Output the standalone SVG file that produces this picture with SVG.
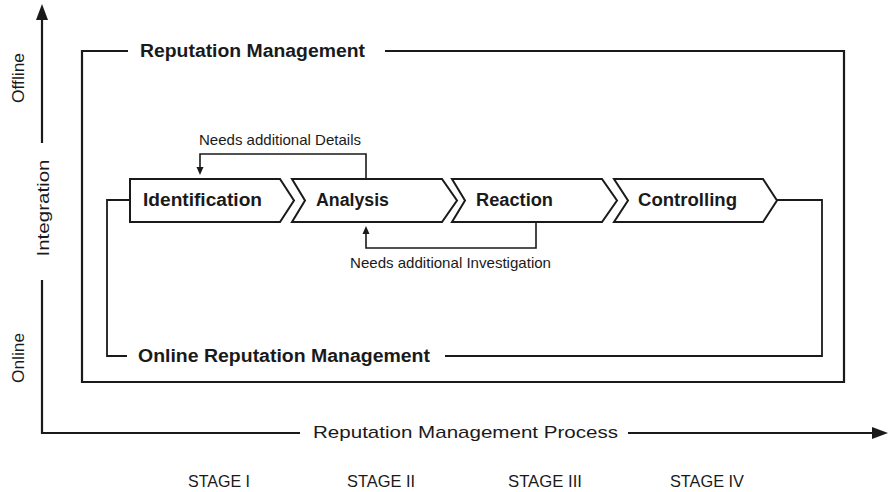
<svg xmlns="http://www.w3.org/2000/svg" width="889" height="492" viewBox="0 0 889 492">
<style>
text{font-family:"Liberation Sans",Arial,sans-serif;fill:#1a1a1a}
.b{font-weight:bold;font-size:18px}
.s{font-size:14.5px}
.ax{font-size:17px}
.st{font-size:16.5px}
.ln{fill:none;stroke:#1a1a1a;stroke-width:2.2}
.mid{fill:none;stroke:#1a1a1a;stroke-width:1.8}
.thin{fill:none;stroke:#1a1a1a;stroke-width:1.6}
.chev{fill:#fff;stroke:#1a1a1a;stroke-width:2;stroke-linejoin:miter}
.ah{fill:#1a1a1a}
</style>
<rect width="889" height="492" fill="#fff"/>
<g id="axes">
<path class="ln" d="M42,143 V18"/>
<polygon class="ah" points="42,4 36,20 48,20"/>
<path class="ln" d="M42,280 V433 H300"/>
<path class="ln" d="M628,433 H874"/>
<polygon class="ah" points="888,433 872,427 872,439"/>
<text class="ax" transform="translate(24,78) rotate(-90)" text-anchor="middle" textLength="50" lengthAdjust="spacingAndGlyphs">Offline</text>
<text class="ax" transform="translate(49,208) rotate(-90)" text-anchor="middle" textLength="97" lengthAdjust="spacingAndGlyphs">Integration</text>
<text class="ax" transform="translate(24,358) rotate(-90)" text-anchor="middle" textLength="50" lengthAdjust="spacingAndGlyphs">Online</text>
<text class="ax" x="313" y="438" textLength="305" lengthAdjust="spacingAndGlyphs">Reputation Management Process</text>
</g>
<g id="connectors">
<path class="ln" d="M128,51 H82 V382 H844 V51 H385"/>
<path class="mid" d="M130,200 H107 V356 H127"/>
<path class="mid" d="M445,356 H822 V200 H777"/>
<path class="thin" d="M366,179 V154 H200 V168"/>
<polygon class="ah" points="200,175 196.5,167 203.5,167"/>
<path class="thin" d="M536,222 V248 H366 V233"/>
<polygon class="ah" points="366,226 362.5,234 369.5,234"/>
</g>
<g id="reputation-management">
<text class="b" x="140" y="57" textLength="225" lengthAdjust="spacingAndGlyphs">Reputation Management</text>
</g>
<g id="online-reputation-management">
<text class="b" x="138" y="362" textLength="292" lengthAdjust="spacingAndGlyphs">Online Reputation Management</text>
</g>
<g id="identification">
<path class="chev" d="M130,179 H280 L294,200.5 L280,222 H130 Z"/>
<text class="b" x="143" y="206" textLength="119" lengthAdjust="spacingAndGlyphs">Identification</text>
</g>
<g id="analysis">
<path class="chev" d="M292,179 H442 L457,200.5 L442,222 H292 L305,200.5 Z"/>
<text class="b" x="316" y="206" textLength="73" lengthAdjust="spacingAndGlyphs">Analysis</text>
</g>
<g id="reaction">
<path class="chev" d="M452,179 H602 L617,200.5 L602,222 H452 L465,200.5 Z"/>
<text class="b" x="476" y="206" textLength="77" lengthAdjust="spacingAndGlyphs">Reaction</text>
</g>
<g id="controlling">
<path class="chev" d="M614,179 H763 L777,200.5 L763,222 H614 L628,200.5 Z"/>
<text class="b" x="638" y="206" textLength="99" lengthAdjust="spacingAndGlyphs">Controlling</text>
</g>
<g id="labels">
<text class="s" x="199" y="145" textLength="162" lengthAdjust="spacingAndGlyphs">Needs additional Details</text>
<text class="s" x="350" y="268" textLength="201" lengthAdjust="spacingAndGlyphs">Needs additional Investigation</text>
</g>
<g id="stages">
<text class="st" x="188" y="487" textLength="62" lengthAdjust="spacingAndGlyphs">STAGE I</text>
<text class="st" x="347" y="487" textLength="68" lengthAdjust="spacingAndGlyphs">STAGE II</text>
<text class="st" x="508" y="487" textLength="74" lengthAdjust="spacingAndGlyphs">STAGE III</text>
<text class="st" x="670" y="487" textLength="74" lengthAdjust="spacingAndGlyphs">STAGE IV</text>
</g>
</svg>
